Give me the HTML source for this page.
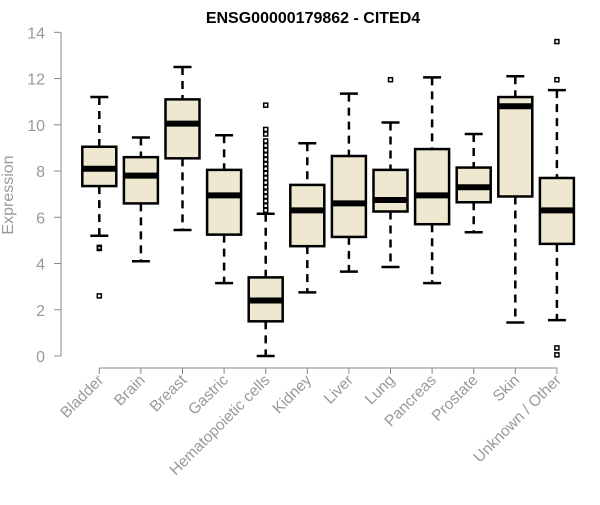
<!DOCTYPE html>
<html><head><meta charset="utf-8"><style>
body{margin:0;background:#fff;font-family:"Liberation Sans",Arial,sans-serif}
</style></head><body>
<svg id="chart" width="600" height="500" xmlns="http://www.w3.org/2000/svg">
<text x="313" y="23" text-anchor="middle" font-size="16" font-weight="bold">ENSG00000179862 - CITED4</text>
<text transform="translate(13,195) rotate(-90)" text-anchor="middle" font-size="16" fill="#999">Expression</text>
<g id="axes"></g><g id="marks"></g>
</svg>
<script>
const categories=["Bladder","Brain","Breast","Gastric","Hematopoietic cells","Kidney","Liver","Lung","Pancreas","Prostate","Skin","Unknown / Other"];
const whiskerHigh=[11.2,9.45,12.5,9.55,6.15,9.2,11.35,10.1,12.05,9.6,12.1,11.5];
const q3=[9.05,8.6,11.1,8.05,3.4,7.4,8.65,8.05,8.95,8.15,11.2,7.7];
const medians=[8.1,7.8,10.05,6.95,2.4,6.3,6.6,6.75,6.95,7.3,10.8,6.3];
const q1=[7.35,6.6,8.55,5.25,1.5,4.75,5.15,6.25,5.7,6.65,6.9,4.85];
const whiskerLow=[5.2,4.1,5.45,3.15,0,2.75,3.65,3.85,3.15,5.35,1.45,1.55];
const outliers=[[4.7,4.65,2.6],[],[],[],[6.3,6.5,6.7,6.9,7.1,7.3,7.5,7.7,7.9,8.1,8.3,8.5,8.7,8.9,9.1,9.3,9.6,9.8,10.85],[],[],[11.95],[],[],[],[13.6,11.95,0.35,0.05]];
const yTicks=[0,2,4,6,8,10,12,14];
const NS="http://www.w3.org/2000/svg";
const y=v=>356-v*23.12;
const x=i=>99.3+i*41.6;
function el(t,a,p){const e=document.createElementNS(NS,t);for(const k in a)e.setAttribute(k,a[k]);p.appendChild(e);return e;}
const axes=document.getElementById('axes'),marks=document.getElementById('marks');
const ya=el('line',{x1:61,x2:61,y1:y(0),y2:y(14),stroke:'#888'},axes);


yTicks.forEach(t=>{
 const l=el('line',{x1:54,x2:61,y1:y(t),y2:y(t),stroke:'#888'},axes);
 
 
 const tx=el('text',{x:45,y:y(t)+6,'text-anchor':'end','font-size':16,fill:'#999'},axes);
 tx.textContent=t;
 
 
});
const xa=el('line',{x1:x(0),x2:x(categories.length-1),y1:368,y2:368,stroke:'#888'},axes);


categories.forEach((c,i)=>{
 const cx=x(i);
 const tk=el('line',{x1:cx,x2:cx,y1:368,y2:374,stroke:'#888'},axes);
 
 
 const tx=el('text',{transform:`translate(${cx+5},${381}) rotate(-45)`,'text-anchor':'end','font-size':15.5,fill:'#999'},axes);
 tx.textContent=c;
 
 
 const g=el('g',{},marks);
 
 
 el('line',{x1:cx,x2:cx,y1:y(whiskerHigh[i]),y2:y(q3[i]),stroke:'#000','stroke-width':2.5,'stroke-dasharray':'8,6'},g);
 el('line',{x1:cx,x2:cx,y1:y(q1[i]),y2:y(whiskerLow[i]),stroke:'#000','stroke-width':2.5,'stroke-dasharray':'8,6'},g);
 el('line',{x1:cx-9,x2:cx+9,y1:y(whiskerHigh[i]),y2:y(whiskerHigh[i]),stroke:'#000','stroke-width':2.5},g);
 el('line',{x1:cx-9,x2:cx+9,y1:y(whiskerLow[i]),y2:y(whiskerLow[i]),stroke:'#000','stroke-width':2.5},g);
 el('rect',{x:cx-17,y:y(q3[i]),width:34,height:y(q1[i])-y(q3[i]),fill:'#ede8cf',stroke:'#000','stroke-width':2.5},g);
 el('line',{x1:cx-17,x2:cx+17,y1:y(medians[i]),y2:y(medians[i]),stroke:'#000','stroke-width':6},g);
 outliers[i].forEach(o=>{
  const p=el('rect',{x:cx-2,y:y(o)-2,width:4,height:4,fill:'none',stroke:'#000','stroke-width':1.5},g);
  
  
 });
});
</script>
</body></html>
